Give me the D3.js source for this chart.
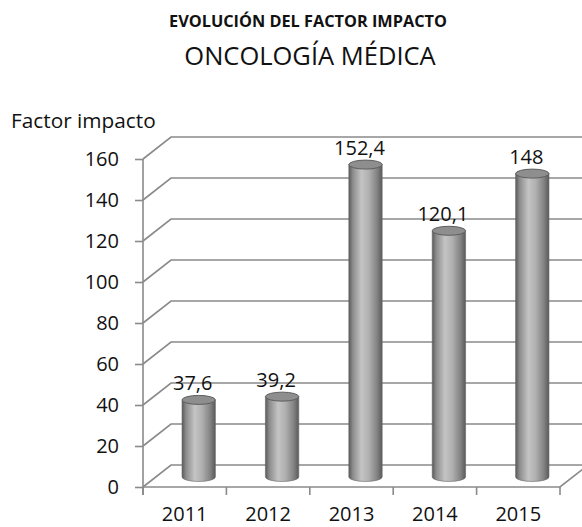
<!DOCTYPE html>
<html><head><meta charset="utf-8">
<script src="https://cdn.jsdelivr.net/npm/d3@7"></script>
<style>
html,body{margin:0;padding:0;background:#fff;}
svg{display:block;font-family:"Open Sans",sans-serif;}
</style></head>
<body>
<svg id="chart" width="582" height="527"></svg>
<script>
const years = ["2011","2012","2013","2014","2015"];
const impact = [37.6, 39.2, 152.4, 120.1, 148];
const valueLabels = ["37,6","39,2","152,4","120,1","148"];
const yTicks = [0,20,40,60,80,100,120,140,160];
const titleLine1 = "EVOLUCIÓN DEL FACTOR IMPACTO";
const titleLine2 = "ONCOLOGÍA MÉDICA";
const yTitle = "Factor impacto";

const svg = d3.select("#chart");
const W = 582;
const x = d3.scaleBand().domain(years).range([143, 560]).paddingInner(0).paddingOuter(0);
const y = d3.scaleLinear().domain([0,160]).range([487,159]);
const DX = 28, DY = -22;       // depth of the back wall
const CDX = 14, CDY = -10;     // cylinder depth position
const gridColor = "#8a8a8a";

// gradient for cylinders
const defs = svg.append("defs");
const g1 = defs.append("linearGradient").attr("id","cyl").attr("x1","0").attr("x2","1").attr("y1","0").attr("y2","0");
[[0,"#5a5a5a"],[0.12,"#8c8c8c"],[0.38,"#c4c4c4"],[0.6,"#b0b0b0"],[0.85,"#828282"],[1,"#5a5a5a"]]
  .forEach(([o,c])=>g1.append("stop").attr("offset",o).attr("stop-color",c));

// titles
svg.append("text").attr("x",308).attr("y",27).attr("text-anchor","middle")
  .attr("font-size",16.3).attr("font-weight","bold").attr("fill","#111").text(titleLine1);
svg.append("text").attr("x",310).attr("y",65).attr("text-anchor","middle")
  .attr("font-size",25.5).attr("fill","#111").text(titleLine2);
svg.append("text").attr("x",11).attr("y",128).attr("font-size",20.8).attr("fill","#111").text(yTitle);

// grid: diagonal on side wall + horizontal on back wall
const grid = svg.append("g").attr("fill","none").attr("stroke",gridColor).attr("stroke-width",1.6);
yTicks.forEach(t=>{
  grid.append("path").attr("d",`M${x.range()[0]},${y(t)}L${x.range()[0]+DX},${y(t)+DY}L${W+5},${y(t)+DY}`);
});
// floor front edge and right diagonal
grid.append("path").attr("d",`M${x.range()[0]},${y(0)}L${x.range()[1]},${y(0)}L${x.range()[1]+DX},${y(0)+DY}`);
// y axis line
grid.append("line").attr("x1",143).attr("x2",143).attr("y1",y(160)).attr("y2",y(0)+8);

// y axis ticks & labels
const yAxis = d3.axisLeft(y).tickValues(yTicks).tickSize(8).tickPadding(16).tickSizeOuter(0);
const ya = svg.append("g").attr("transform","translate(143,0)").call(yAxis);
ya.select(".domain").remove();
ya.selectAll(".tick line").attr("stroke",gridColor).attr("stroke-width",1.6);
ya.selectAll(".tick text").attr("font-size",20).attr("fill","#111").attr("font-family","Open Sans");

// x axis ticks at band boundaries
const bounds = years.map(d=>x(d)).concat([x.range()[1]]);
svg.append("g").selectAll("line").data(bounds).join("line")
  .attr("x1",d=>d).attr("x2",d=>d).attr("y1",y(0)).attr("y2",y(0)+8)
  .attr("stroke",gridColor).attr("stroke-width",1.6);
svg.append("g").selectAll("text").data(years).join("text")
  .attr("x",d=>x(d)+x.bandwidth()/2).attr("y",521).attr("text-anchor","middle")
  .attr("font-size",20).attr("fill","#111").text(d=>d);

// cylinders
const cw = x.bandwidth()*0.4, rx = cw/2, ry = 4.5;
const cyl = svg.append("g");
years.forEach((yr,i)=>{
  const cx = x(yr)+x.bandwidth()/2+CDX;
  const yb = y(0)+CDY, yt = y(impact[i])+CDY;
  cyl.append("path")
    .attr("d",`M${cx-rx},${yt}L${cx-rx},${yb}A${rx},${ry} 0 0 0 ${cx+rx},${yb}L${cx+rx},${yt}Z`)
    .attr("fill","url(#cyl)").attr("stroke","#666").attr("stroke-width",0.6);
  cyl.append("ellipse").attr("cx",cx).attr("cy",yt).attr("rx",rx).attr("ry",ry)
    .attr("fill","#8e8e8e").attr("stroke","#5e5e5e").attr("stroke-width",1);
  svg.append("text").attr("x",cx-6).attr("y",yt-10).attr("text-anchor","middle")
    .attr("font-size",20).attr("fill","#111").text(valueLabels[i]);
});
</script>
</body></html>
